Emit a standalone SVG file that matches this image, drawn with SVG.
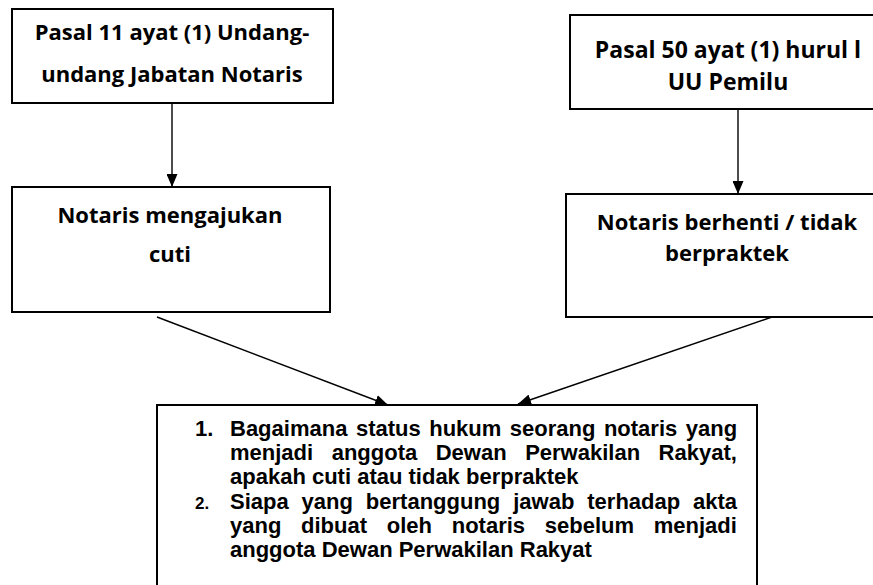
<svg xmlns="http://www.w3.org/2000/svg" width="873" height="585" viewBox="0 0 873 585">
<style>
.box{fill:#fff;stroke:#000;stroke-width:2}
.h{font-family:"Open Sans","Liberation Sans",sans-serif;font-weight:bold;font-size:22px;fill:#000;text-anchor:middle}
.b{font-family:"Liberation Sans",Arial,sans-serif;font-weight:bold;font-size:22px;fill:#000}
.n{font-family:"Liberation Sans",Arial,sans-serif;font-weight:bold;fill:#000}
.c{stroke:#000;stroke-width:1.4;fill:none;marker-end:url(#ah)}
</style>
<defs>
<marker id="ah" viewBox="0 0 13 11" refX="13" refY="5.5" markerWidth="13" markerHeight="11" markerUnits="userSpaceOnUse" orient="auto">
<path d="M0,0 L13,5.5 L0,11 Z" fill="#000"/>
</marker>
</defs>
<g id="connectors">
<line class="c" x1="172" y1="103" x2="172" y2="187"/>
<line class="c" x1="738" y1="109" x2="738" y2="194"/>
<line class="c" x1="157" y1="317" x2="388" y2="405"/>
<line class="c" x1="772" y1="317" x2="518" y2="404"/>
</g>
<g id="node-pasal11">
<rect class="box" x="12" y="9" width="321" height="94"/>
<text class="h" x="172" y="40">Pasal 11 ayat (1) Undang-</text>
<text class="h" x="172" y="82">undang Jabatan Notaris</text>
</g>
<g id="node-pasal50">
<rect class="box" x="570" y="15" width="320" height="94"/>
<text class="h" x="728" y="58" style="font-size:23px">Pasal 50 ayat (1) hurul l</text>
<text class="h" x="728" y="90" style="font-size:23px">UU Pemilu</text>
</g>
<g id="node-cuti">
<rect class="box" x="12" y="187" width="318" height="125"/>
<text class="h" x="170" y="223">Notaris mengajukan</text>
<text class="h" x="170" y="262">cuti</text>
</g>
<g id="node-berhenti">
<rect class="box" x="566" y="194" width="320" height="123"/>
<text class="h" x="727" y="230">Notaris berhenti / tidak</text>
<text class="h" x="727" y="261">berpraktek</text>
</g>
<g id="node-masalah">
<rect class="box" x="157" y="405" width="600" height="190"/>
<text class="n" x="195" y="436" style="font-size:22px">1.</text>
<text class="b" x="230" y="436" word-spacing="2.4">Bagaimana status hukum seorang notaris yang</text>
<text class="b" x="230" y="460" word-spacing="12.4">menjadi anggota Dewan Perwakilan Rakyat,</text>
<text class="b" x="230" y="484">apakah cuti atau tidak berpraktek</text>
<text class="n" x="195" y="509" style="font-size:17px">2.</text>
<text class="b" x="230" y="509" word-spacing="6.8">Siapa yang bertanggung jawab terhadap akta</text>
<text class="b" x="230" y="533" word-spacing="13.6">yang dibuat oleh notaris sebelum menjadi</text>
<text class="b" x="230" y="557">anggota Dewan Perwakilan Rakyat</text>
</g>
</svg>
